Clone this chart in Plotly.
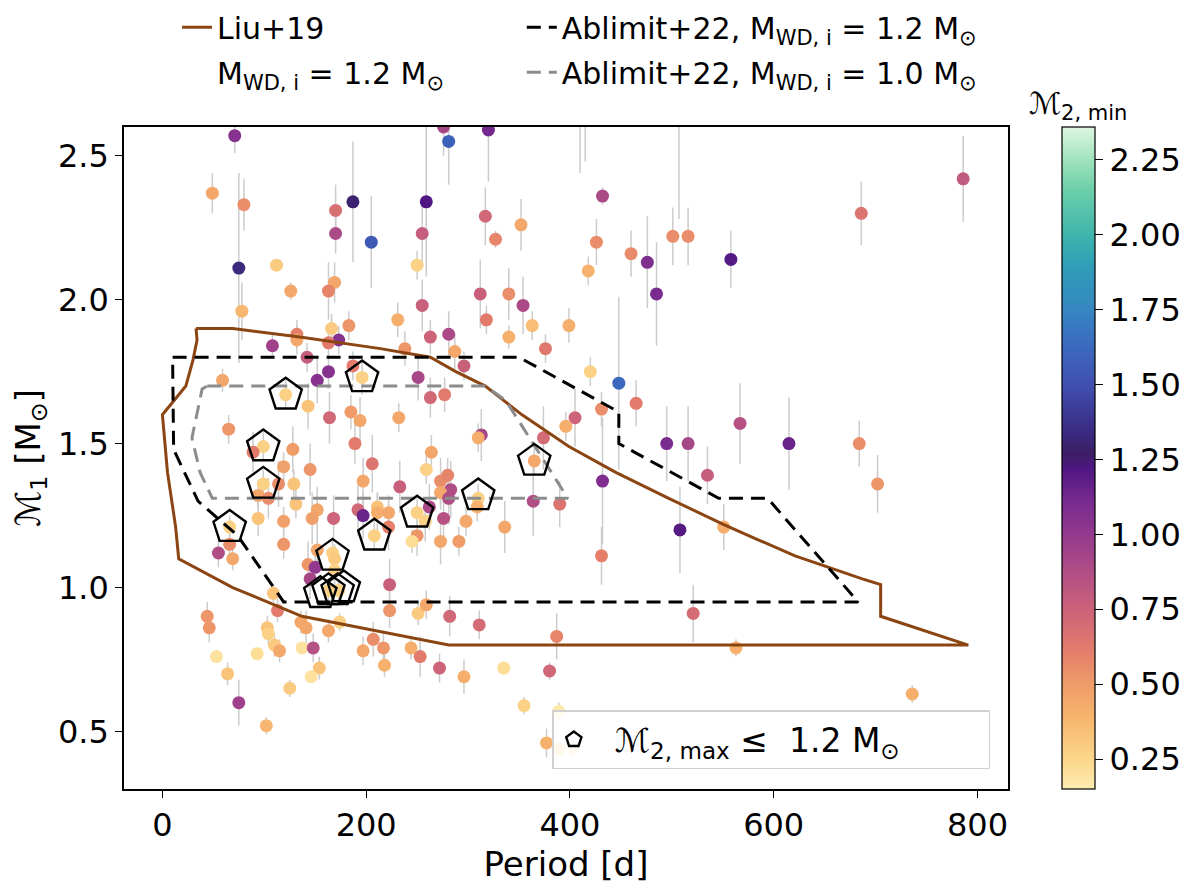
import plotly.graph_objects as go

# orbital period [d], primary mass M1 [Msun], its error, and minimum companion mass M2,min
period = [
    71, 49, 80, 75, 78, 112, 126, 170, 170, 187,
    205, 259, 255, 250, 255, 281, 276, 169, 163, 166,
    183, 231, 132, 132, 108, 173, 163, 263, 281, 238,
    287, 320, 432, 317, 327, 352, 426, 418, 460, 476,
    485, 501, 516, 558, 312, 340, 354, 318, 363, 399,
    340, 376, 410, 415, 507, 296, 420, 448, 465, 431,
    405, 396, 374, 313, 310, 495, 516, 567, 535, 432,
    508, 551, 365, 364, 390, 310, 309, 298, 336, 291,
    431, 311, 387, 521, 563, 296, 335, 380, 355, 389,
    377, 389, 403, 786, 686, 615, 684, 702, 736, 142,
    163, 152, 187, 196, 251, 263, 277, 59, 121, 143,
    164, 185, 194, 232, 65, 99, 89, 128, 119, 145,
    189, 206, 264, 259, 99, 114, 129, 94, 104, 197,
    233, 273, 280, 283, 273, 281, 131, 152, 147, 168,
    119, 94, 66, 192, 197, 211, 211, 222, 250, 258,
    262, 276, 208, 222, 250, 245, 273, 119, 66, 55,
    69, 167, 169, 152, 143, 150, 145, 169, 163, 173,
    109, 113, 223, 223, 251, 259, 282, 44, 46, 103,
    104, 136, 141, 163, 174, 207, 197, 217, 244, 253,
    272, 218, 53, 93, 110, 115, 137, 148, 154, 146,
    64, 125, 75, 102,
]
m1 = [
    2.57, 2.37, 2.33, 2.11, 1.96, 2.12, 2.03, 2.31, 2.23, 2.34,
    2.20, 2.34, 2.23, 2.12, 1.98, 2.55, 2.60, 2.06, 2.03, 1.90,
    1.91, 1.93, 1.88, 1.86, 1.84, 1.86, 1.85, 1.87, 1.88, 1.83,
    1.82, 2.59, 2.36, 2.29, 2.21, 2.26, 2.20, 2.10, 2.16, 2.13,
    2.02, 2.22, 2.22, 2.14, 2.02, 2.02, 1.98, 1.93, 1.91, 1.91,
    1.87, 1.83, 2.85, 2.75, 2.80, 1.77, 1.75, 1.71, 1.64, 1.62,
    1.59, 1.56, 1.52, 1.53, 1.52, 1.50, 1.50, 1.57, 1.39, 1.37,
    1.20, 1.21, 1.44, 1.30, 1.29, 1.31, 1.28, 1.23, 1.21, 1.16,
    1.11, 0.87, 0.83, 0.91, 0.79, 0.69, 0.72, 0.71, 0.59, 0.57,
    0.46, 0.44, 0.44, 2.42, 2.30, 1.50, 1.50, 1.36, 0.63, 1.80,
    1.75, 1.72, 1.77, 1.73, 1.73, 1.66, 1.67, 1.72, 1.67, 1.63,
    1.59, 1.61, 1.58, 1.59, 1.55, 1.49, 1.47, 1.48, 1.42, 1.41,
    1.50, 1.43, 1.47, 1.41, 1.36, 1.36, 1.36, 1.32, 1.31, 1.37,
    1.35, 1.37, 1.39, 1.34, 1.33, 1.31, 1.29, 1.27, 1.24, 1.24,
    1.23, 1.24, 1.21, 1.27, 1.25, 1.28, 1.26, 1.26, 1.26, 1.23,
    1.28, 1.24, 1.18, 1.21, 1.18, 1.16, 1.16, 1.15, 1.15, 1.12,
    1.10, 1.12, 1.10, 1.13, 1.08, 1.07, 1.03, 1.06, 0.99, 0.99,
    0.98, 0.92, 1.01, 0.92, 0.91, 0.94, 0.90, 0.90, 0.86, 0.86,
    0.84, 0.88, 0.86, 0.85, 0.88, 0.82, 0.78, 0.79, 0.79, 0.76,
    0.72, 0.73, 0.76, 0.77, 0.80, 0.78, 0.79, 0.79, 0.72, 0.69,
    0.70, 0.65, 0.60, 0.52,
]
m1_err = [
    0.06, 0.07, 0.09, 0.33, 0.10, 0.02, 0.03, 0.09, 0.07, 0.21,
    0.16, 0.26, 0.10, 0.05, 0.09, 0.15, 0.10, 0.07, 0.10, 0.05,
    0.05, 0.06, 0.05, 0.05, 0.04, 0.05, 0.05, 0.06, 0.08, 0.06,
    0.06, 0.18, 0.03, 0.10, 0.03, 0.09, 0.08, 0.05, 0.08, 0.16,
    0.18, 0.10, 0.10, 0.10, 0.12, 0.09, 0.10, 0.05, 0.05, 0.06,
    0.04, 0.05, 0.41, 0.27, 0.52, 0.05, 0.05, 0.30, 0.08, 0.06,
    0.10, 0.05, 0.11, 0.09, 0.05, 0.13, 0.13, 0.14, 0.10, 0.22,
    0.15, 0.08, 0.05, 0.12, 0.08, 0.05, 0.05, 0.05, 0.09, 0.05,
    0.10, 0.05, 0.08, 0.10, 0.03, 0.06, 0.02, 0.03, 0.03, 0.03,
    0.05, 0.02, 0.03, 0.15, 0.11, 0.16, 0.08, 0.10, 0.03, 0.05,
    0.06, 0.08, 0.05, 0.06, 0.08, 0.07, 0.06, 0.04, 0.05, 0.08,
    0.09, 0.06, 0.08, 0.05, 0.05, 0.05, 0.07, 0.08, 0.05, 0.09,
    0.07, 0.10, 0.06, 0.05, 0.05, 0.08, 0.05, 0.05, 0.07, 0.08,
    0.09, 0.08, 0.06, 0.10, 0.06, 0.09, 0.05, 0.08, 0.09, 0.08,
    0.05, 0.06, 0.04, 0.09, 0.08, 0.05, 0.07, 0.06, 0.05, 0.07,
    0.08, 0.09, 0.05, 0.08, 0.07, 0.04, 0.08, 0.05, 0.04, 0.05,
    0.04, 0.05, 0.05, 0.07, 0.08, 0.06, 0.07, 0.05, 0.04, 0.04,
    0.03, 0.04, 0.09, 0.06, 0.04, 0.05, 0.07, 0.05, 0.05, 0.04,
    0.04, 0.04, 0.06, 0.04, 0.03, 0.06, 0.05, 0.06, 0.04, 0.07,
    0.05, 0.04, 0.02, 0.02, 0.04, 0.04, 0.02, 0.05, 0.04, 0.02,
    0.04, 0.03, 0.08, 0.03,
]
m2_min = [
    1.05, 0.45, 0.55, 1.33, 0.38, 0.30, 0.45, 0.68, 0.90, 1.30,
    1.55, 1.22, 0.78, 0.27, 0.76, 1.58, 0.92, 0.45, 0.58, 0.30,
    0.52, 0.42, 0.60, 0.45, 0.95, 1.05, 0.62, 0.74, 0.90, 0.52,
    0.45, 1.12, 0.90, 0.72, 0.58, 0.45, 0.55, 0.40, 0.56, 1.08,
    1.10, 0.55, 0.55, 1.20, 0.76, 0.55, 0.90, 0.62, 0.35, 0.42,
    0.40, 0.63, 0.60, 0.50, 0.70, 0.76, 0.27, 1.62, 0.62, 0.55,
    0.74, 0.42, 0.70, 0.92, 0.42, 1.10, 0.92, 0.85, 0.78, 1.08,
    1.20, 0.42, 0.45, 0.88, 0.66, 0.27, 0.40, 0.45, 0.45, 0.50,
    0.60, 0.70, 0.58, 0.70, 0.40, 0.42, 0.22, 0.72, 0.27, 0.17,
    0.40, 0.22, 0.15, 0.80, 0.65, 1.15, 0.55, 0.52, 0.42, 0.78,
    1.05, 1.05, 0.62, 0.27, 0.92, 0.72, 0.62, 0.45, 0.27, 0.33,
    0.72, 0.50, 0.45, 0.45, 0.52, 0.27, 0.62, 0.50, 0.48, 0.52,
    0.62, 0.65, 0.45, 0.27, 0.27, 0.55, 0.33, 0.45, 0.55, 0.45,
    0.76, 0.55, 0.58, 0.88, 0.45, 0.88, 0.33, 0.45, 0.48, 0.74,
    0.48, 0.33, 0.27, 0.72, 1.15, 0.33, 0.42, 0.45, 0.27, 0.27,
    0.90, 0.85, 0.27, 0.60, 0.52, 0.22, 0.45, 0.52, 0.55, 0.88,
    0.45, 0.27, 0.30, 0.45, 0.52, 1.00, 0.92, 0.27, 0.27, 0.27,
    0.33, 0.62, 0.76, 0.52, 0.30, 0.45, 0.72, 0.52, 0.52, 0.33,
    0.27, 0.45, 0.45, 0.45, 0.27, 0.55, 0.45, 0.52, 0.42, 0.62,
    0.74, 0.40, 0.20, 0.22, 0.30, 0.45, 0.20, 0.85, 0.33, 0.20,
    0.33, 0.30, 0.95, 0.38,
]

# systems with M2,max <= 1.2 Msun (open pentagons)
pent_period = [121, 196, 99, 99, 66, 208, 250, 310, 365, 167, 155, 163, 172, 178]
pent_m1 = [1.67, 1.73, 1.49, 1.36, 1.21, 1.18, 1.26, 1.32, 1.44, 1.11, 0.98, 0.99, 0.99, 1.00]

# model regions
liu_period = [33, 69, 135, 214, 263, 288, 317, 353, 399, 445, 497, 550, 582, 621, 687, 705,
              705, 791, 281, 137, 69, 16, 13, 5, 0, 23, 30, 34, 33]
liu_m1 = [1.90, 1.90, 1.87, 1.83, 1.80, 1.75, 1.70, 1.60, 1.49, 1.40, 1.31, 1.22, 1.17, 1.11, 1.03, 1.01,
          0.90, 0.80, 0.80, 0.90, 1.00, 1.10, 1.21, 1.40, 1.60, 1.70, 1.79, 1.86, 1.90]
abl12_period = [10, 350, 448, 448, 546, 594, 683, 119, 74, 35, 11, 10]
abl12_m1 = [1.80, 1.80, 1.61, 1.50, 1.31, 1.31, 0.95, 0.95, 1.18, 1.30, 1.48, 1.80]
abl10_period = [44, 317, 337, 366, 398, 49, 37, 29, 39, 44]
abl10_m1 = [1.70, 1.70, 1.65, 1.49, 1.31, 1.31, 1.40, 1.52, 1.69, 1.70]

cmin, cmax = 0.15, 2.36
cs_vals = [0.15, 0.25, 0.40, 0.50, 0.60, 0.75, 0.90, 1.00, 1.12, 1.22, 1.27,
           1.35, 1.50, 1.65, 1.75, 1.90, 2.00, 2.15, 2.25, 2.36]
cs_cols = ["#fdecb2", "#fcd68a", "#f6b26c", "#ef9c69", "#e57f6a", "#cb627a", "#ab4a87",
           "#94398e", "#74298e", "#4f1683", "#3d1e64", "#3a2c85", "#4150b0", "#3a6ec0",
           "#3586c0", "#2f9fb8", "#3fb4ab", "#6ccfaa", "#a0e3bc", "#dff6e2"]
colorscale = [[(v - cmin) / (cmax - cmin), c] for v, c in zip(cs_vals, cs_cols)]

FONT = "DejaVu Sans"
TICK = 32
fig = go.Figure()

fig.add_trace(go.Scatter(
    x=period, y=m1, mode="markers", showlegend=False,
    error_y=dict(type="data", array=m1_err, color="#cccccc", thickness=1.5, width=0),
    marker=dict(
        size=13, color=m2_min, colorscale=colorscale, cmin=cmin, cmax=cmax,
        line=dict(width=0),
        colorbar=dict(
            x=1.061, xanchor="left", xpad=0, ypad=0, y=0.5, len=1, thickness=33,
            outlinecolor="black", outlinewidth=1.2,
            ticks="outside", ticklen=8, tickwidth=1.2, tickcolor="black",
            tickvals=[0.25, 0.5, 0.75, 1.0, 1.25, 1.5, 1.75, 2.0, 2.25],
            tickformat=".2f", tickfont=dict(size=TICK, family=FONT, color="black"),
        ),
    ),
))

fig.add_trace(go.Scatter(
    x=liu_period, y=liu_m1, mode="lines", name="Liu+19",
    line=dict(color="#8b4513", width=3), legend="legend", legendgroup="a",
))
fig.add_trace(go.Scatter(
    x=[None], y=[None], mode="lines", name="M<sub>WD, i</sub> = 1.2 M<sub>⊙</sub>",
    line=dict(color="rgba(0,0,0,0)", width=3), legend="legend", legendgroup="b",
))
fig.add_trace(go.Scatter(
    x=abl12_period, y=abl12_m1, mode="lines",
    name="Ablimit+22, M<sub>WD, i</sub> = 1.2 M<sub>⊙</sub>",
    line=dict(color="black", width=3, dash="14px,8px"), legend="legend2", legendgroup="c",
))
fig.add_trace(go.Scatter(
    x=abl10_period, y=abl10_m1, mode="lines",
    name="Ablimit+22, M<sub>WD, i</sub> = 1.0 M<sub>⊙</sub>",
    line=dict(color="#8c8c8c", width=3, dash="14px,8px"), legend="legend2", legendgroup="d",
))
fig.add_trace(go.Scatter(
    x=pent_period, y=pent_m1, mode="markers",
    name="  ℳ<sub>2, max</sub> ≤  1.2 M<sub>⊙</sub>",
    marker=dict(symbol="pentagon-open", size=34, color="black", line=dict(width=2.4)),
    legend="legend3",
))

axis_common = dict(
    showline=True, linecolor="black", linewidth=1.5, mirror=True,
    ticks="outside", ticklen=7, tickwidth=1.2, tickcolor="black",
    showgrid=False, zeroline=False,
    tickfont=dict(size=TICK, family=FONT, color="black"),
)

fig.update_layout(
    width=1200, height=889,
    margin=dict(l=116, r=200, t=119, b=108, autoexpand=False),
    plot_bgcolor="white", paper_bgcolor="white",
    font=dict(family=FONT, size=TICK, color="black"),
    xaxis=dict(range=[-37.7, 830], tickvals=[0, 200, 400, 600, 800],
               title=dict(text="Period [d]", font=dict(size=34), standoff=4), **axis_common),
    yaxis=dict(range=[0.30, 2.60], tickvals=[0.5, 1.0, 1.5, 2.0, 2.5], tickformat=".1f",
               title=dict(text="ℳ<sub>1</sub> [M<sub>⊙</sub>]", font=dict(size=34), standoff=10),
               **axis_common),
    legend=dict(x=0.06, y=1.19, xanchor="left", yanchor="top", bgcolor="rgba(0,0,0,0)",
                font=dict(size=30), tracegroupgap=3),
    legend2=dict(x=0.45, y=1.19, xanchor="left", yanchor="top", bgcolor="rgba(0,0,0,0)",
                 font=dict(size=30), tracegroupgap=3),
    legend3=dict(x=0.98, y=0.03, xanchor="right", yanchor="bottom", orientation="h",
                 entrywidth=390, bgcolor="rgba(255,255,255,0.8)", bordercolor="#d0d0d0",
                 borderwidth=1.5, font=dict(size=33)),
    annotations=[dict(
        text="ℳ<sub>2, min</sub>", xref="paper", yref="paper", x=1.079, y=1.0,
        xanchor="center", yanchor="bottom", showarrow=False,
        font=dict(size=30, family=FONT, color="black"),
    )],
)

fig.write_html("out.html")
